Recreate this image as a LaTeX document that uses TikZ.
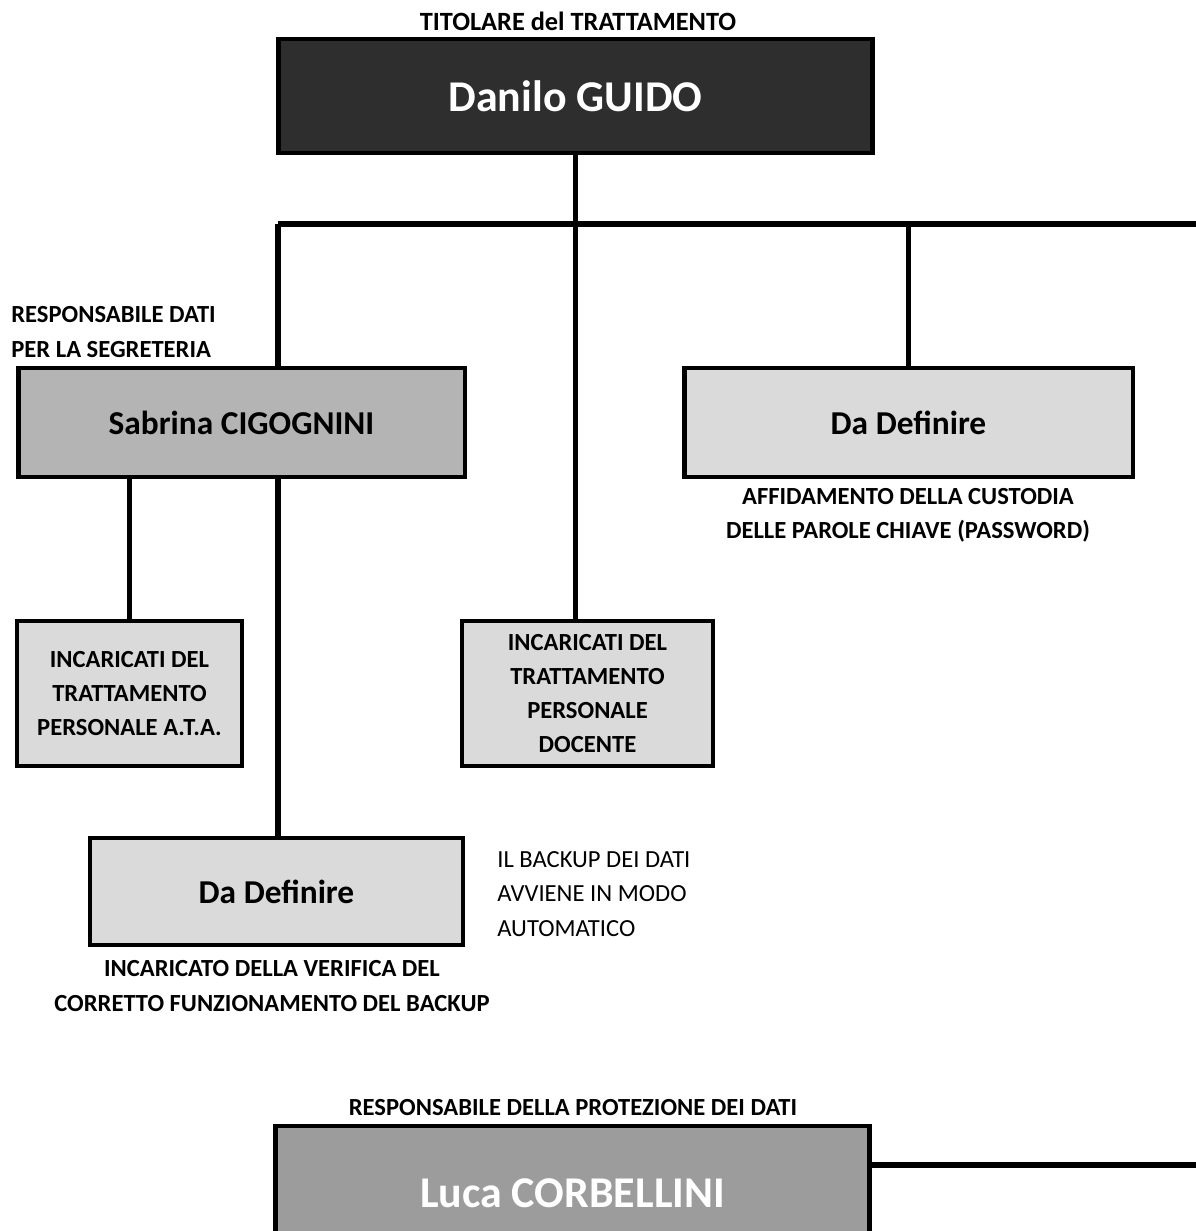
\documentclass[tikz,border=0pt]{standalone}
\usepackage{fontspec}
\setmainfont{Carlito}
\definecolor{darkbox}{HTML}{2E2E2E}
\definecolor{midbox}{HTML}{B4B4B4}
\definecolor{lightbox}{HTML}{DADADA}
\definecolor{dpobox}{HTML}{9C9C9C}
\tikzset{
  chart/.style={line width=3pt},
  rolebox/.style={draw=black, line width=2.8pt, inner sep=0pt, align=center},
  lbl/.style={inner sep=0pt, align=center, font=\bfseries\fontsize{14}{19.5}\selectfont},
  note/.style={inner sep=0pt, align=left, font=\fontsize{14}{19.5}\selectfont},
  bigname/.style={font=\bfseries\fontsize{25}{29}\selectfont},
  midname/.style={font=\bfseries\fontsize{19}{23}\selectfont}
}
\begin{document}
\begin{tikzpicture}[x=0.02cm, y=-0.02cm]
\clip (0,0) rectangle (1196,1231);
\fill[white] (0,0) rectangle (1196,1231);
\node[rolebox, fill=darkbox, text=white, bigname, minimum width=11.9cm, minimum height=2.28cm] (guido) at (575.5,96) {Danilo GUIDO};
\node[lbl, font=\bfseries\fontsize{15}{19.5}\selectfont] (titolare) at (578,21) {TITOLARE del TRATTAMENTO};
\coordinate (busL) at (278,224);
\coordinate (busR) at (1196,224);
\node[rolebox, fill=midbox, midname, minimum width=8.94cm, minimum height=2.18cm] (sabrina) at (241.5,422.5) {Sabrina CIGOGNINI};
\node[lbl, align=left, anchor=west] (respseg) at (11,332) {RESPONSABILE DATI\\PER LA SEGRETERIA};
\node[rolebox, fill=lightbox, midname, minimum width=8.98cm, minimum height=2.18cm] (pwd) at (908.5,422.5) {Da Definire};
\node[lbl] (pwdlbl) at (908,515) {AFFIDAMENTO DELLA CUSTODIA\\DELLE PAROLE CHIAVE (PASSWORD)};
\node[rolebox, fill=lightbox, lbl, minimum width=4.5cm, minimum height=2.9cm] (ata) at (129.5,693.5) {INCARICATI DEL\\TRATTAMENTO\\PERSONALE A.T.A.};
\node[rolebox, fill=lightbox, lbl, minimum width=5.02cm, minimum height=2.9cm] (docenti) at (587.5,693.5) {INCARICATI DEL\\TRATTAMENTO\\PERSONALE\\DOCENTE};
\node[rolebox, fill=lightbox, midname, minimum width=7.46cm, minimum height=2.14cm] (backup) at (276.5,891.5) {Da Definire};
\node[note, anchor=west] (autonote) at (497,894) {IL BACKUP DEI DATI\\AVVIENE IN MODO\\AUTOMATICO};
\node[lbl] (verifica) at (272,986) {INCARICATO DELLA VERIFICA DEL\\CORRETTO FUNZIONAMENTO DEL BACKUP};
\node[lbl] (dpolbl) at (573,1108) {RESPONSABILE DELLA PROTEZIONE DEI DATI};
\node[rolebox, fill=dpobox, text=white, bigname, minimum width=11.9cm, minimum height=2.68cm] (luca) at (572.5,1193) {Luca CORBELLINI};
\coordinate (dpoR) at (1196,1165);
\draw[chart] (guido.south) -- (guido.south |- busL);
\draw[chart] (busL) -- (busR);
\draw[chart] (busL) -- (busL |- sabrina.north);
\draw[chart] (guido.south |- busL) -- (guido.south |- docenti.north);
\draw[chart] (pwd.north |- busL) -- (pwd.north);
\draw[chart] (ata.north |- sabrina.south) -- (ata.north);
\draw[chart] (busL |- sabrina.south) -- (busL |- backup.north);
\draw[chart] (luca.east |- dpoR) -- (dpoR);
\end{tikzpicture}
\end{document}
